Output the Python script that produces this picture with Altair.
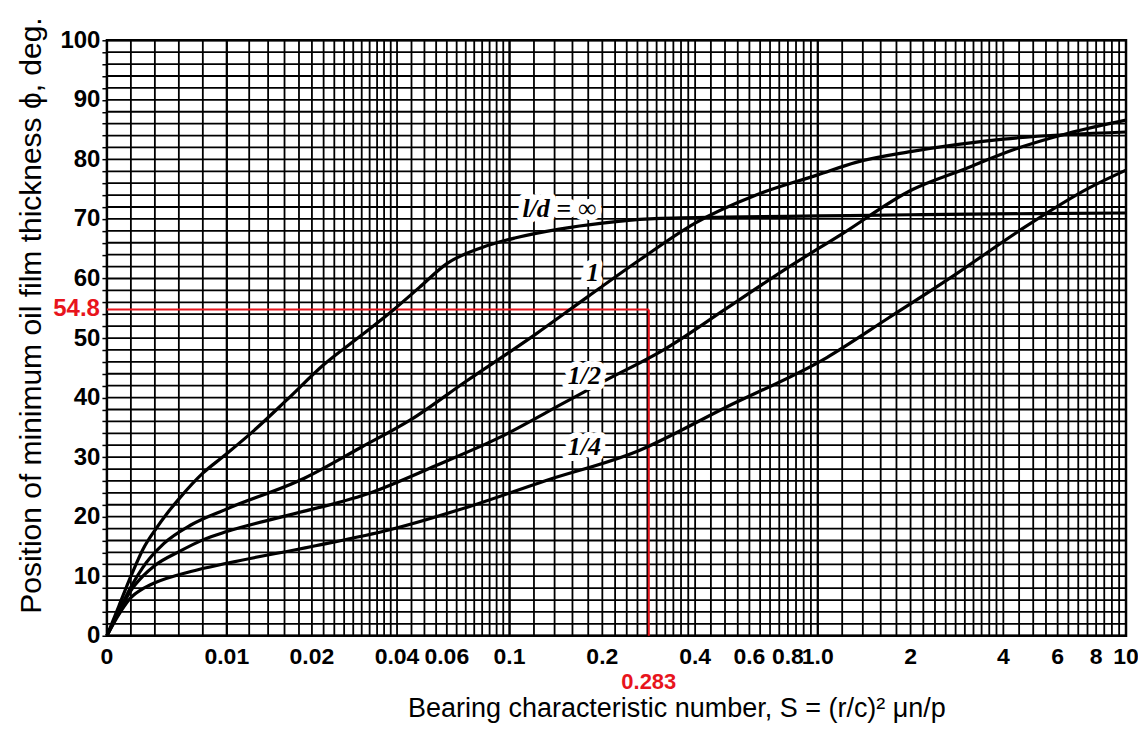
import altair as alt
import pandas as pd

# ---------------- data ----------------
INF_S = [0, 0.001, 0.002, 0.003, 0.0041, 0.005, 0.0061, 0.008, 0.0097, 0.0125, 0.0163, 0.022,
         0.03, 0.039, 0.048, 0.06, 0.08, 0.104, 0.145, 0.2, 0.285, 0.5, 1.0, 2.0, 5.0, 10.0]
INF_PHI = [0, 5.0, 10.0, 14.5, 18.0, 20.5, 23.2, 27.3, 30.1, 34.5, 39.6, 45.5,
           50.5, 54.8, 58.5, 62.5, 65.2, 66.8, 68.3, 69.3, 70.0, 70.3, 70.5, 70.7, 70.9, 71.0]

ONE_S = [0, 0.001, 0.002, 0.003, 0.00474, 0.007, 0.01, 0.0188, 0.03, 0.0446, 0.07, 0.121, 0.18,
         0.264, 0.4, 0.631, 1.0, 1.33, 2.0, 4.0, 10.0]
ONE_PHI = [0, 4.2, 8.2, 11.5, 15.47, 18.6, 21.3, 26.45, 31.7, 36.24, 42.7, 50.58, 57.0,
           63.1, 69.3, 74.02, 77.4, 79.5, 81.3, 83.4, 84.6]

HALF_S = [0, 0.001, 0.002, 0.003, 0.004, 0.00609, 0.008, 0.01, 0.0167, 0.0313, 0.055, 0.0923, 0.15,
          0.2, 0.319, 0.5, 0.779, 1.2, 2.03, 3.0, 4.31, 6.5, 10.0]
HALF_PHI = [0, 4.0, 7.6, 10.0, 11.8, 14.2, 16.1, 17.5, 20.3, 23.8, 28.6, 33.31, 39.1,
            42.6, 48.14, 54.8, 61.45, 67.5, 74.94, 78.4, 81.62, 84.4, 86.6]

QUART_S = [0, 0.001, 0.002, 0.003, 0.004, 0.007, 0.0101, 0.02, 0.0377, 0.0736, 0.13, 0.261, 0.5,
           1.07, 1.7, 2.83, 4.5, 7.57, 10.0]
QUART_PHI = [0, 3.6, 6.4, 7.9, 8.9, 10.8, 12.22, 15.0, 17.8, 21.85, 26.0, 31.04, 38.3,
             46.72, 53.4, 60.86, 68.0, 75.18, 78.2]

CURVE_NAMES = ["l/d = ∞", "1", "1/2", "1/4"]
LABEL_S = [0.145, 0.186, 0.175, 0.175]
LABEL_PHI = [71.6, 60.9, 43.6, 31.7]

# grid
GRID_LIN = [0.002, 0.004, 0.006, 0.008]
GRID_MANT = [1.0, 1.2, 1.4, 1.6, 1.8, 2.0, 2.2, 2.4, 2.6, 2.8, 3.0, 3.2, 3.4, 3.6, 3.8,
             4.0, 4.5, 5.0, 5.5, 6.0, 6.5, 7.0, 7.5, 8.0, 8.5, 9.0, 9.5]
DECADES = [0.01, 0.1, 1.0]
MAJOR_X = [0.01, 0.1, 1.0]
GRID_Y = list(range(0, 101, 2))

XTICK_S = [0, 0.01, 0.02, 0.04, 0.06, 0.1, 0.2, 0.4, 0.6, 0.8, 1.0, 2, 4, 6, 8, 10]
XTICK_TEXT = ["0", "0.01", "0.02", "0.04", "0.06", "0.1", "0.2", "0.4", "0.6", "0.8",
              "1.0", "2", "4", "6", "8", "10"]

EXAMPLE_S = 0.283
EXAMPLE_PHI = 54.8

# ---------------- tables ----------------
curves = pd.concat([
    pd.DataFrame({"S": INF_S, "phi": INF_PHI, "curve": CURVE_NAMES[0]}),
    pd.DataFrame({"S": ONE_S, "phi": ONE_PHI, "curve": CURVE_NAMES[1]}),
    pd.DataFrame({"S": HALF_S, "phi": HALF_PHI, "curve": CURVE_NAMES[2]}),
    pd.DataFrame({"S": QUART_S, "phi": QUART_PHI, "curve": CURVE_NAMES[3]}),
], ignore_index=True)

grid_minor = pd.DataFrame({"S": GRID_LIN + [round(d * m, 6) for d in DECADES for m in GRID_MANT]})
grid_major = pd.DataFrame({"S": MAJOR_X})
grid_y = pd.DataFrame({"phi": GRID_Y})
ticks = pd.DataFrame({"S": XTICK_S, "txt": XTICK_TEXT})
labels = pd.DataFrame({"S": LABEL_S, "phi": LABEL_PHI, "txt": CURVE_NAMES})
red_h = pd.DataFrame({"S": [0.0], "S2": [EXAMPLE_S], "phi": [EXAMPLE_PHI]})
red_v = pd.DataFrame({"S": [EXAMPLE_S], "phi": [0.0], "phi2": [EXAMPLE_PHI]})
red_y_lab = pd.DataFrame({"S": [0.0], "phi": [EXAMPLE_PHI], "txt": [f"{EXAMPLE_PHI}"]})
red_x_lab = pd.DataFrame({"S": [EXAMPLE_S], "phi": [0.0], "txt": [f"{EXAMPLE_S}"]})


# piecewise scale: linear 0..0.01, logarithmic beyond
def uexpr(f):
    d = f"datum['{f}']"
    return (f"{d} <= 0.01 ? {d} * 12000 : ({d} <= 0.1 ? 120 + 283 * log({d} / 0.01) / LN10"
            f" : 403 + 308.5 * log({d} / 0.1) / LN10)")


XSCALE = alt.Scale(domain=[0, 1020], nice=False, zero=False)
YSCALE = alt.Scale(domain=[0, 100], nice=False)
FONT = "Liberation Sans"
RED = "#e8141c"

XAX = alt.Axis(title="Bearing characteristic number,  S = (r/c)² μn/p", labels=False, ticks=False,
               domain=False, grid=False, titleFont=FONT, titleFontSize=27, titleFontWeight="normal",
               titleColor="black", titlePadding=60, titleX=570)
YAX = alt.Axis(title="Position of minimum oil film thickness    ϕ, deg.", values=GRID_Y,
               labelExpr="datum.value % 10 == 0 ? datum.label : ''", labelOverlap=False,
               grid=False, domain=False,
               tickSize=5, tickColor="black", tickWidth=1.5, labelPadding=2, labelFont=FONT,
               labelFontSize=24, labelFontWeight="bold", labelColor="black",
               titleFont=FONT, titleFontSize=30, titleFontWeight="normal", titleColor="black",
               titlePadding=13, titleY=275)

X = alt.X("u:Q", scale=XSCALE, axis=XAX)
Y = alt.Y("phi:Q", scale=YSCALE, axis=YAX)

vminor = alt.Chart(grid_minor).transform_calculate(u=uexpr("S")).mark_rule(
    color="black", strokeWidth=1.8).encode(x=X)
vmajor = alt.Chart(grid_major).transform_calculate(u=uexpr("S")).mark_rule(
    color="black", strokeWidth=2.1).encode(x=X)
hgrid = alt.Chart(grid_y).mark_rule(color="black", strokeWidth=1.8).encode(y=Y)

redh = alt.Chart(red_h).transform_calculate(u=uexpr("S"), u2=uexpr("S2")).mark_rule(
    color=RED, strokeWidth=2).encode(x=X, x2="u2:Q", y=Y)
redv = alt.Chart(red_v).transform_calculate(u=uexpr("S")).mark_rule(
    color=RED, strokeWidth=2).encode(x=X, y=Y, y2="phi2:Q")

lines = alt.Chart(curves).transform_calculate(u=uexpr("S")).mark_line(
    color="black", strokeWidth=3.2, interpolate="monotone").encode(
    x=X, y=Y, detail="curve:N", order="S:Q")

halo = alt.Chart(labels).transform_calculate(u=uexpr("S")).mark_text(
    font="Liberation Serif", fontSize=26, fontWeight="bold", fontStyle="italic",
    stroke="white", strokeWidth=12, strokeJoin="round", fill="white").encode(x=X, y=Y, text="txt:N")
ltext = alt.Chart(labels).transform_calculate(u=uexpr("S")).mark_text(
    font="Liberation Serif", fontSize=26, fontWeight="bold", fontStyle="italic",
    color="black").encode(x=X, y=Y, text="txt:N")

xticks = alt.Chart(ticks).transform_calculate(u=uexpr("S"), phi="0").mark_text(
    font=FONT, fontSize=23, fontWeight="bold", color="black", baseline="middle", dy=21).encode(
    x=X, y=Y, text="txt:N")

ylab = alt.Chart(red_y_lab).transform_calculate(u=uexpr("S")).mark_text(
    font=FONT, fontSize=24, fontWeight="bold", color=RED, align="right",
    baseline="middle", dx=-7).encode(x=X, y=Y, text="txt:N")
xlab = alt.Chart(red_x_lab).transform_calculate(u=uexpr("S")).mark_text(
    font=FONT, fontSize=22, fontWeight="bold", color=RED, baseline="middle", dy=46).encode(
    x=X, y=Y, text="txt:N")

chart = alt.layer(vminor, vmajor, hgrid, redh, redv, lines, halo, ltext, xticks, ylab, xlab).properties(
    width=1020, height=596,
    autosize=alt.AutoSizeParams(type="none"),
    padding={"left": 99, "top": 32, "right": 12, "bottom": 90},
    background="white",
).configure_view(stroke="black", strokeWidth=2.5)

chart.save("out.html", embed_options={"renderer": "svg", "actions": False})
